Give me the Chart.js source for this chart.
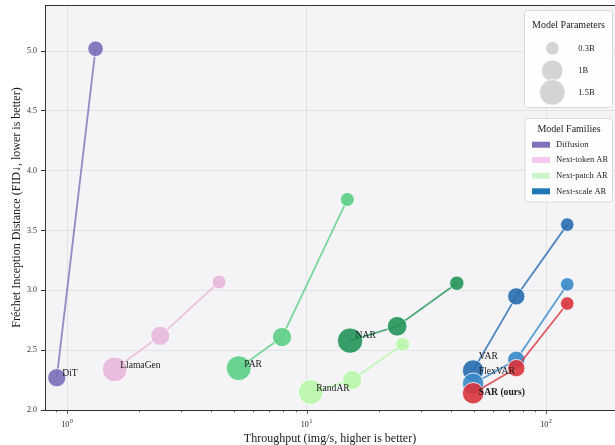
<!DOCTYPE html>
<html>
<head>
<meta charset="utf-8">
<script src="https://cdn.jsdelivr.net/npm/chart.js@4.4.1/dist/chart.umd.min.js"></script>
<style>
  html, body { margin: 0; padding: 0; background: #ffffff; }
  canvas { display: block; }
</style>
</head>
<body>
<canvas id="chart" width="615" height="445"></canvas>
<script>
// ---- data: throughput (img/s), FID, parameters (billions) per model family ----
const ditThroughput = [0.906, 1.315];
const ditFid        = [2.27, 5.02];
const ditParams     = [0.675, 0.458];

const llamaThroughput = [1.58, 2.45, 4.31];
const llamaFid        = [2.34, 2.62, 3.07];
const llamaParams     = [1.4, 0.775, 0.343];

const parThroughput = [5.21, 7.90, 14.8];
const parFid        = [2.35, 2.61, 3.76];
const parParams     = [1.4, 0.775, 0.343];

const narThroughput = [15.2, 23.9, 42.4];
const narFid        = [2.58, 2.70, 3.06];
const narParams     = [1.46, 0.816, 0.372];

const randThroughput = [10.4, 15.5, 25.2];
const randFid        = [2.15, 2.25, 2.55];
const randParams     = [1.4, 0.775, 0.343];

const varThroughput = [49.6, 75.1, 122.6];
const varFid        = [2.33, 2.95, 3.55];
const varParams     = [1.0, 0.6, 0.31];

const flexThroughput = [49.6, 75.1, 122.6];
const flexFid        = [2.22, 2.42, 3.05];
const flexParams     = [1.0, 0.6, 0.31];

const sarThroughput = [49.6, 75.1, 122.6];
const sarFid        = [2.14, 2.35, 2.89];
const sarParams     = [1.0, 0.6, 0.31];

const modelNames   = ['DiT', 'LlamaGen', 'PAR', 'NAR', 'RandAR', 'VAR', 'FlexVAR', 'SAR (ours)'];
const familyNames  = ['Diffusion', 'Next-token AR', 'Next-patch AR', 'Next-scale AR'];
const sizeLegend   = [0.3, 1, 1.5];
const sizeLegendLabels = ['0.3B', '1B', '1.5B'];
const yTicks = [2.0, 2.5, 3.0, 3.5, 4.0, 4.5, 5.0];
const xMajorTicks = [1, 10, 100];
const xMinorTicks = [0.9, 2, 3, 4, 5, 6, 7, 8, 9, 20, 30, 40, 50, 60, 70, 80, 90];

// ---- styling ----
const FONT = "'Liberation Serif', 'Times New Roman', serif";
const modelColors = {
  'DiT':        [122, 110, 184],
  'LlamaGen':   [232, 183, 217],
  'PAR':        [92, 206, 133],
  'NAR':        [36, 148, 88],
  'RandAR':     [184, 246, 170],
  'VAR':        [40, 108, 175],
  'FlexVAR':    [56, 136, 199],
  'SAR (ours)': [217, 52, 60]
};
const familyColors = ['#7e70b9', '#f6c8ef', '#ccf5cc', '#1f77b4'];
const rgba = (c, a) => `rgba(${c[0]},${c[1]},${c[2]},${a})`;

// marker radius grows with parameter count (marker area ~ params)
const radiusFor = p => Math.sqrt(15 + 100 * p);

const seriesTable = [
  [ditThroughput, ditFid, ditParams],
  [llamaThroughput, llamaFid, llamaParams],
  [parThroughput, parFid, parParams],
  [narThroughput, narFid, narParams],
  [randThroughput, randFid, randParams],
  [varThroughput, varFid, varParams],
  [flexThroughput, flexFid, flexParams],
  [sarThroughput, sarFid, sarParams]
];

const datasets = seriesTable.map(([tp, fid, params], i) => {
  const col = modelColors[modelNames[i]];
  return {
    label: modelNames[i],
    data: tp.map((x, k) => ({ x: x, y: fid[k] })),
    order: seriesTable.length - i,
    showLine: true,
    borderColor: rgba(col, 0.8),
    borderWidth: 1.8,
    tension: 0,
    pointBackgroundColor: rgba(col, 0.9),
    pointBorderColor: '#ffffff',
    pointBorderWidth: 0.8,
    pointRadius: ctx => radiusFor(params[ctx.dataIndex]),
    pointHoverRadius: ctx => radiusFor(params[ctx.dataIndex]),
    clip: false
  };
});

// model name annotations next to the largest variant of each model
const annotations = [
  { model: 'DiT',        idx: 0, dx: 5.5, dy: -4,  bold: false },
  { model: 'LlamaGen',   idx: 0, dx: 5.5, dy: -4,  bold: false },
  { model: 'PAR',        idx: 0, dx: 5.5, dy: -4,  bold: false },
  { model: 'NAR',        idx: 0, dx: 5.5, dy: -5,  bold: false },
  { model: 'RandAR',     idx: 0, dx: 5.5, dy: -4,  bold: false },
  { model: 'VAR',        idx: 0, dx: 5.7, dy: -14, bold: false },
  { model: 'FlexVAR',    idx: 0, dx: 5.7, dy: -12, bold: false },
  { model: 'SAR (ours)', idx: 0, dx: 5.7, dy: -1,  bold: true }
];

function roundRect(ctx, x, y, w, h, r) {
  ctx.beginPath();
  ctx.moveTo(x + r, y);
  ctx.lineTo(x + w - r, y);
  ctx.arcTo(x + w, y, x + w, y + r, r);
  ctx.lineTo(x + w, y + h - r);
  ctx.arcTo(x + w, y + h, x + w - r, y + h, r);
  ctx.lineTo(x + r, y + h);
  ctx.arcTo(x, y + h, x, y + h - r, r);
  ctx.lineTo(x, y + r);
  ctx.arcTo(x, y, x + r, y, r);
  ctx.closePath();
}

const decorPlugin = {
  id: 'decor',
  beforeDraw(chart) {
    const { ctx, chartArea: a } = chart;
    ctx.save();
    ctx.fillStyle = '#ffffff';
    ctx.fillRect(0, 0, chart.width, chart.height);
    ctx.fillStyle = '#f4f4f7';
    ctx.fillRect(a.left, a.top, a.right - a.left, a.bottom - a.top);
    ctx.restore();
  },
  afterDatasetsDraw(chart) {
    const { ctx } = chart;
    ctx.save();
    ctx.fillStyle = '#1a1a1a';
    ctx.textAlign = 'left';
    ctx.textBaseline = 'middle';
    annotations.forEach(an => {
      const di = modelNames.indexOf(an.model);
      const el = chart.getDatasetMeta(di).data[an.idx];
      ctx.font = (an.bold ? 'bold ' : '') + '9.6px ' + FONT;
      ctx.fillText(an.model, el.x + an.dx, el.y + an.dy);
    });
    ctx.restore();
  },
  afterDraw(chart) {
    const { ctx, chartArea: a } = chart;
    const xs = chart.scales.x;
    ctx.save();
    // top spine
    ctx.strokeStyle = '#333333';
    ctx.lineWidth = 1;
    ctx.beginPath();
    ctx.moveTo(a.left, a.top + 0.5);
    ctx.lineTo(chart.width, a.top + 0.5);
    ctx.stroke();

    // x tick marks (major longer than minor)
    const tickMark = (v, len) => {
      const px = Math.round(xs.getPixelForValue(v)) + 0.5;
      ctx.beginPath();
      ctx.moveTo(px, a.bottom);
      ctx.lineTo(px, a.bottom + len);
      ctx.stroke();
    };
    ctx.lineWidth = 0.8;
    xMinorTicks.forEach(v => tickMark(v, 2.2));
    xMajorTicks.forEach(v => tickMark(v, 4));

    // x tick labels as powers of ten
    ctx.fillStyle = '#222222';
    ctx.textBaseline = 'alphabetic';
    xMajorTicks.forEach(v => {
      const exp = String(Math.round(Math.log10(v)));
      const px = xs.getPixelForValue(v);
      ctx.font = '8px ' + FONT;
      const wb = ctx.measureText('10').width;
      ctx.font = '5.6px ' + FONT;
      const we = ctx.measureText(exp).width;
      const x0 = px - (wb + we + 0.6) / 2;
      ctx.textAlign = 'left';
      ctx.font = '8px ' + FONT;
      ctx.fillText('10', x0, 427);
      ctx.font = '5.6px ' + FONT;
      ctx.fillText(exp, x0 + wb + 0.6, 423);
    });

    // legend: model parameters
    ctx.lineWidth = 0.8;
    roundRect(ctx, 524.5, 10.5, 88, 97, 3);
    ctx.fillStyle = 'rgba(255,255,255,0.9)';
    ctx.fill();
    ctx.strokeStyle = '#d2d2d2';
    ctx.stroke();
    ctx.fillStyle = '#222222';
    ctx.textAlign = 'center';
    ctx.textBaseline = 'middle';
    ctx.font = '10px ' + FONT;
    ctx.fillText('Model Parameters', 568.5, 25);
    const sizeRows = [48.3, 70.7, 92.3];
    sizeLegend.forEach((p, i) => {
      ctx.beginPath();
      ctx.arc(552.3, sizeRows[i], radiusFor(p), 0, Math.PI * 2);
      ctx.fillStyle = '#d4d4d4';
      ctx.fill();
      ctx.strokeStyle = '#ffffff';
      ctx.stroke();
      ctx.fillStyle = '#222222';
      ctx.textAlign = 'left';
      ctx.font = '8.5px ' + FONT;
      ctx.fillText(sizeLegendLabels[i], 578.3, sizeRows[i]);
    });

    // legend: model families
    roundRect(ctx, 525, 118.5, 87.5, 83.5, 3);
    ctx.fillStyle = 'rgba(255,255,255,0.9)';
    ctx.fill();
    ctx.strokeStyle = '#d2d2d2';
    ctx.stroke();
    ctx.fillStyle = '#222222';
    ctx.textAlign = 'center';
    ctx.font = '10px ' + FONT;
    ctx.fillText('Model Families', 569, 129.5);
    const famRows = [144.7, 160, 175.7, 191.3];
    familyNames.forEach((name, i) => {
      ctx.fillStyle = familyColors[i];
      ctx.fillRect(532, famRows[i] - 3, 18, 6);
      ctx.fillStyle = '#222222';
      ctx.textAlign = 'left';
      ctx.font = '8.5px ' + FONT;
      ctx.fillText(name, 556, famRows[i]);
    });
    ctx.restore();
  }
};

new Chart(document.getElementById('chart'), {
  type: 'line',
  data: { datasets: datasets },
  options: {
    responsive: false,
    devicePixelRatio: 1,
    animation: false,
    events: [],
    layout: { autoPadding: false, padding: { top: 5, right: 0, bottom: 0, left: 0 } },
    plugins: { legend: { display: false }, tooltip: { enabled: false } },
    scales: {
      x: {
        type: 'logarithmic',
        min: 0.809,
        max: 194,
        afterBuildTicks: s => {
          s.ticks = xMinorTicks.concat(xMajorTicks).sort((p, q) => p - q)
            .map(v => ({ value: v, major: xMajorTicks.includes(v) }));
        },
        afterFit: s => { s.height = 35; s.paddingLeft = 0; s.paddingRight = 0; },
        ticks: { display: false },
        grid: {
          drawTicks: false,
          color: c => (c.tick && xMajorTicks.includes(c.tick.value)) ? '#e2e2e6' : 'rgba(0,0,0,0)',
          lineWidth: 1
        },
        border: { color: '#333333', width: 1 },
        title: {
          display: true,
          text: 'Throughput (img/s, higher is better)',
          color: '#1a1a1a',
          font: { family: FONT, size: 12, lineHeight: 1 },
          padding: { top: 0, bottom: 0 }
        }
      },
      y: {
        type: 'linear',
        min: 2.0,
        max: 5.386,
        afterBuildTicks: s => { s.ticks = yTicks.map(v => ({ value: v })); },
        afterFit: s => { s.width = 45; s.paddingTop = 0; s.paddingBottom = 0; },
        ticks: {
          color: '#333333',
          padding: 4,
          font: { family: FONT, size: 8 },
          callback: v => Number(v).toFixed(1)
        },
        grid: {
          color: '#e2e2e6',
          tickColor: '#333333',
          tickLength: 4,
          lineWidth: 1
        },
        border: { color: '#333333', width: 1 },
        title: {
          display: true,
          text: 'Fréchet Inception Distance (FID↓, lower is better)',
          color: '#1a1a1a',
          font: { family: FONT, size: 12, lineHeight: 1 },
          padding: { top: 11, bottom: 0 }
        }
      }
    }
  },
  plugins: [decorPlugin]
});
</script>
</body>
</html>
